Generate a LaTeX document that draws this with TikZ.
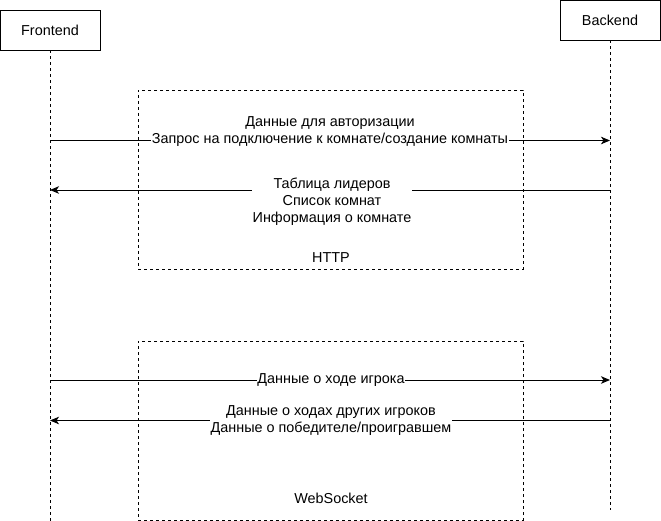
\documentclass[tikz,border=0pt]{standalone}
\usepackage{fontspec}
\setmainfont{Liberation Sans}
\usetikzlibrary{arrows.meta}
\begin{document}
\begin{tikzpicture}[x=1pt,y=-1pt,
  actor/.style={draw,line width=0.9pt,minimum width=100pt,minimum height=40pt,inner sep=0pt,font=\fontsize{14.4}{17.3}\selectfont},
  life/.style={line width=0.7pt,dash pattern=on 3pt off 3pt},
  frame/.style={draw,line width=0.7pt,dash pattern=on 3pt off 3pt,minimum width=385pt,minimum height=179pt,inner sep=0pt},
  msg/.style={line width=0.9pt,-{Stealth[length=9pt,width=7.5pt,inset=2.5pt]}},
  lbl/.style={fill=white,inner sep=0.5pt,align=center,font=\fontsize{14.4}{17.3}\selectfont},
  ftext/.style={font=\fontsize{14.4}{17.3}\selectfont,inner sep=0pt}]
\useasboundingbox (0,0) rectangle (661,521);
\node[actor] (fe) at (50,30) {Frontend};
\node[actor] (be) at (610,20) {Backend};
\coordinate (feend) at (50,521);
\coordinate (beend) at (610,510);
\draw[life] (fe.south) -- (feend);
\draw[life] (be.south) -- (beend);
\node[frame] (http) at (330.5,179.5) {};
\node[frame] (ws) at (330.5,430.5) {};
\node[ftext] (httpl) at (331,259.5) {\strut HTTP};
\node[ftext] (wsl) at (331,500.5) {\strut WebSocket};
\coordinate (f1) at (50,140.5);
\coordinate (b1) at (610,140.5);
\coordinate (f2) at (50,190);
\coordinate (b2) at (610,190);
\coordinate (f3) at (50,380);
\coordinate (b3) at (610,380);
\coordinate (f4) at (50,420.5);
\coordinate (b4) at (610,420.5);
\draw[msg] (f1) -- (b1);
\draw[msg] (b2) -- (f2);
\draw[msg] (f3) -- (b3);
\draw[msg] (b4) -- (f4);
\node[lbl] (l1) at (330,131.2) {\strut Данные для авторизации\\\strut Запрос на подключение к комнате/создание комнаты};
\node[lbl] (l2) at (332,202) {\strut Таблица лидеров\\\strut Список комнат\\\strut Информация о комнате};
\node[lbl] (l3) at (331,380) {\strut Данные о ходе игрока};
\node[lbl] (l4) at (331,420.5) {\strut Данные о ходах других игроков\\\strut Данные о победителе/проигравшем};
\end{tikzpicture}
\end{document}
